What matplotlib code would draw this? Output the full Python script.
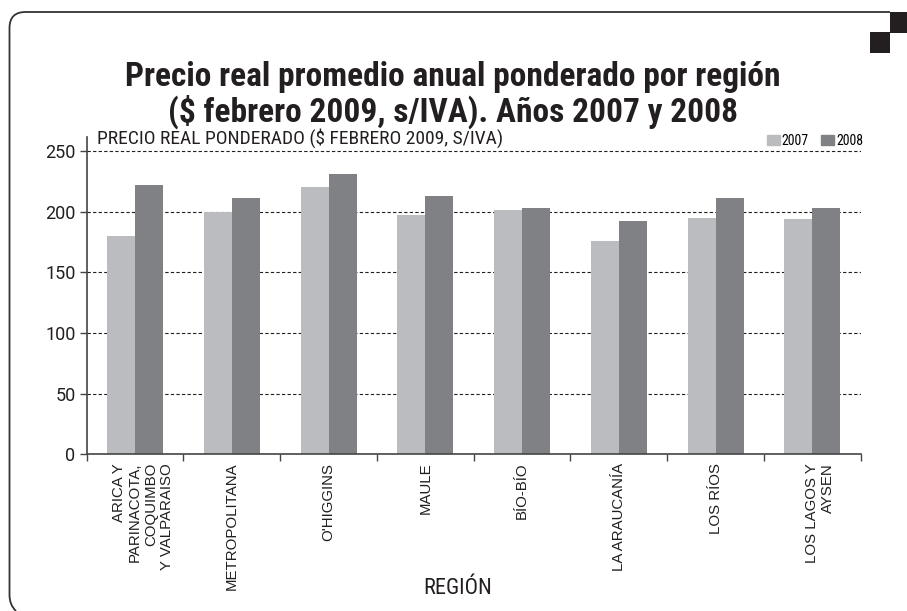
import matplotlib
matplotlib.use("Agg")
import matplotlib.pyplot as plt
import numpy as np
from matplotlib import font_manager as fm
from matplotlib.patches import Rectangle, Patch, PathPatch
from matplotlib.path import Path as MPath
from matplotlib.transforms import offset_copy

regions = [
    "ARICA Y\nPARINACOTA,\nCOQUIMBO\nY VALPARAISO",
    "METROPOLITANA",
    "O'HIGGINS",
    "MAULE",
    "BÍO-BÍO",
    "LA ARAUCANÍA",
    "LOS RÍOS",
    "LOS LAGOS Y\nAYSEN",
]
precio_2007 = [180, 200, 220, 197, 201, 176, 195, 194]
precio_2008 = [222, 211, 231, 213, 203, 192, 211, 203]
yticks = [0, 50, 100, 150, 200, 250]

C07 = "#bbbcc0"
C08 = "#808185"
INK = "#231f20"
W, H = 907, 611


def pick_narrow():
    fonts = fm.fontManager.ttflist
    names = {f.name for f in fonts}
    for n in ["Roboto Condensed", "Liberation Sans Narrow", "Arial Narrow",
              "DejaVu Sans Condensed", "Noto Sans Condensed", "Open Sans Condensed"]:
        if n in names:
            return n, "normal"
    for f in fonts:
        st = f.stretch
        if (isinstance(st, str) and "condensed" in st) or (isinstance(st, int) and st < 500):
            return f.name, "condensed"
    return "Roboto", "normal"


narrow_name, narrow_stretch = pick_narrow()
NARROW = dict(family=[narrow_name, "DejaVu Sans"], fontstretch=narrow_stretch)

fig = plt.figure(figsize=(W / 100, H / 100), dpi=100)
ax = fig.add_axes([86.7 / W, 1 - 454.3 / H, 774 / W, (454.3 - 137) / H])

x = np.arange(len(regions))
bw = 0.29
ax.bar(x - bw / 2, precio_2007, bw, color=C07, zorder=2)
ax.bar(x + bw / 2, precio_2008, bw, color=C08, zorder=2)

ax.set_xlim(-0.5, len(regions) - 0.5)
ax.set_ylim(0, 261.5)
for v in yticks[1:]:
    ax.axhline(v, color=INK, lw=0.8, ls=(0, (3, 2)), zorder=1)

for s in ["top", "right"]:
    ax.spines[s].set_visible(False)
for s in ["left", "bottom"]:
    ax.spines[s].set_color("#444444")
    ax.spines[s].set_linewidth(1.2)

ax.set_yticks(yticks)
ax.set_yticklabels([str(v) for v in yticks], fontsize=13, color=INK, family=["Roboto", "DejaVu Sans"])
ax.tick_params(axis="y", length=5, width=1, color="#444444", pad=3)

# category boundary ticks on the bottom axis
ax.set_xticks(np.arange(len(regions) + 1) - 0.5)
ax.set_xticklabels([])
ax.tick_params(axis="x", length=5, width=1, color="#444444")
for i, lab in enumerate(regions):
    shift = 8 if "\n" in lab else 0
    tr = offset_copy(ax.transData, fig=fig, x=shift, y=0, units="dots")
    ax.text(i, -7, lab, rotation=90, ha="center", va="top", multialignment="right", transform=tr,
            family=["Liberation Sans", "DejaVu Sans"], fontsize=10.8, color=INK, linespacing=1.2)

fig.text(97 / W, 1 - 144 / H, "PRECIO REAL PONDERADO ($ FEBRERO 2009, S/IVA)",
         fontsize=14, color=INK, va="baseline", ha="left", **NARROW)

fig.text(458 / W, 1 - 594 / H, "REGIÓN", fontsize=16, color=INK, ha="center", va="baseline", **NARROW)

fig.text(453 / W, 1 - 95 / H,
         "Precio real promedio anual ponderado por región\n($ febrero 2009, s/IVA). Años 2007 y 2008",
         fontweight="bold", fontsize=24, color=INK, ha="center", va="center", linespacing=1.08, **NARROW)

handles = [Patch(color=C07, label="2007"), Patch(color=C08, label="2008")]
fig.legend(handles=handles, loc="center right", bbox_to_anchor=(863 / W, 1 - 141 / H), ncol=2,
           frameon=False, handlelength=0.9, handleheight=0.75, handletextpad=0.15, columnspacing=0.9,
           borderpad=0, borderaxespad=0,
           prop=fm.FontProperties(family=NARROW["family"], stretch=narrow_stretch, size=10))

# page frame with rounded left corners and the corner squares
r = 16
verts = [(890, 12), (9.5 + r, 12), (9.5, 12), (9.5, 12 + r), (9.5, 595), (9.5, 605), (16, 611)]
codes = [MPath.MOVETO, MPath.LINETO, MPath.CURVE3, MPath.CURVE3, MPath.LINETO, MPath.CURVE3, MPath.CURVE3]
verts = [(vx / W, 1 - vy / H) for vx, vy in verts]
fig.patches.append(PathPatch(MPath(verts, codes), transform=fig.transFigure, fill=False,
                             edgecolor="#333333", lw=1.3))
fig.patches.append(Rectangle((890 / W, 1 - 33 / H), 17 / W, 21 / H, transform=fig.transFigure,
                             facecolor=INK, edgecolor="none"))
fig.patches.append(Rectangle((870 / W, 1 - 53 / H), 20 / W, 21 / H, transform=fig.transFigure,
                             facecolor=INK, edgecolor="none"))

fig.savefig("out.png", dpi=100)
